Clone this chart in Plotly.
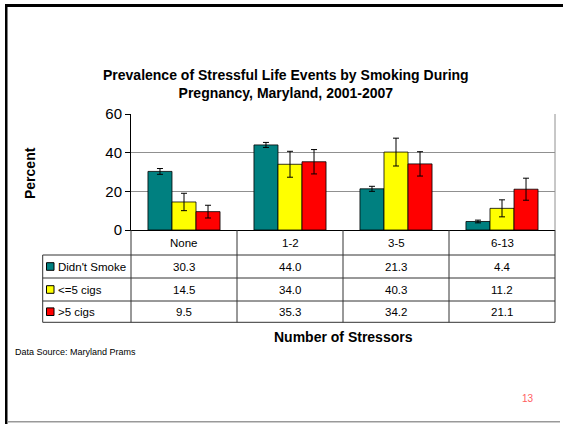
import plotly.graph_objects as go

categories = ["None", "1-2", "3-5", "6-13"]
series_names = ["Didn't Smoke", "<=5 cigs", ">5 cigs"]
didnt_smoke = [30.3, 44.0, 21.3, 4.4]
le5_cigs = [14.5, 34.0, 40.3, 11.2]
gt5_cigs = [9.5, 35.3, 34.2, 21.1]
didnt_smoke_err = [1.5, 1.3, 1.3, 0.7]
le5_cigs_err = [4.5, 6.7, 7.2, 4.4]
gt5_cigs_err = [3.3, 6.3, 6.3, 5.7]
y_ticks = [0, 20, 40, 60]

colors = ["#008080", "#FFFF00", "#FF0000"]
values = [didnt_smoke, le5_cigs, gt5_cigs]
errors = [didnt_smoke_err, le5_cigs_err, gt5_cigs_err]

FONT = "Liberation Sans, Arial, sans-serif"
W, H = 563, 424
ML, MR, MT, MB = 131, 8, 114, 194
PW, PH = W - ML - MR, H - MT - MB


def px(x):
    return (x - ML) / PW


def py(y):
    return (H - MB - y) / PH


fig = go.Figure()
for name, vals, err, col in zip(series_names, values, errors, colors):
    fig.add_trace(go.Bar(
        x=categories, y=vals, name=name,
        marker=dict(color=col, line=dict(color="black", width=0.8)),
        error_y=dict(type="data", array=err, visible=True,
                     color="black", thickness=1, width=3),
        showlegend=False,
    ))

shapes = []
line_col = "#333333"
n = len(categories)
for i in range(n + 1):
    shapes.append(dict(type="line", xref="paper", yref="paper",
                       x0=i / n, x1=i / n, y0=0, y1=py(322.3),
                       line=dict(color=line_col, width=1)))
for yy in [255, 278, 301, 322.3]:
    shapes.append(dict(type="line", xref="paper", yref="paper",
                       x0=px(42.7), x1=1, y0=py(yy), y1=py(yy),
                       line=dict(color=line_col, width=1)))
shapes.append(dict(type="line", xref="paper", yref="paper",
                   x0=px(42.7), x1=px(42.7), y0=py(255), y1=py(322.3),
                   line=dict(color=line_col, width=1)))
shapes.append(dict(type="line", xref="paper", yref="paper",
                   x0=1, x1=1, y0=0, y1=1,
                   line=dict(color="#909090", width=1)))
# slide frame (filled strips)
shapes.append(dict(type="rect", xref="paper", yref="paper",
                   x0=px(5), x1=px(560), y0=py(7), y1=py(4),
                   fillcolor="black", line=dict(width=0)))
shapes.append(dict(type="rect", xref="paper", yref="paper",
                   x0=px(5), x1=px(7.5), y0=py(424), y1=py(4),
                   fillcolor="black", line=dict(width=0)))
shapes.append(dict(type="rect", xref="paper", yref="paper",
                   x0=px(7.5), x1=px(560), y0=py(422.5), y1=py(421),
                   fillcolor="#999999", line=dict(width=0)))

row_centers = [266.5, 289.5, 311.7]
annotations = []
TS = 11.5
for c in categories:
    annotations.append(dict(x=c, xref="x", y=py(242.5), yref="paper",
                            xanchor="center", yanchor="middle",
                            text=c, showarrow=False,
                            font=dict(size=TS, color="black", family=FONT)))
for r, (name, vals, col) in enumerate(zip(series_names, values, colors)):
    yc = py(row_centers[r])
    for c, v in zip(categories, vals):
        annotations.append(dict(x=c, xref="x", y=yc, yref="paper",
                                xanchor="center", yanchor="middle",
                                text=f"{v:.1f}", showarrow=False,
                                font=dict(size=TS, color="black", family=FONT)))
    annotations.append(dict(x=px(55.5), xref="paper", xanchor="left",
                            y=yc, yref="paper", yanchor="middle",
                            text=name, showarrow=False,
                            font=dict(size=TS, color="black", family=FONT)))
    shapes.append(dict(type="rect", xref="paper", yref="paper",
                       x0=px(46.5), x1=px(54), y0=yc - 3.8 / PH, y1=yc + 3.8 / PH,
                       fillcolor=col, line=dict(color="black", width=1)))

annotations += [
    # top border strip of the slide frame
    dict(x=px(5), xref="paper", xanchor="left", y=py(4), yref="paper",
         yanchor="top", text=" ", showarrow=False, width=560, height=3,
         bgcolor="black", borderpad=0, borderwidth=0,
         font=dict(size=1, color="black", family=FONT)),
    dict(x=px(286), xref="paper", xanchor="center", y=py(84), yref="paper",
         yanchor="middle",
         text="<b>Prevalence of Stressful Life Events by Smoking During<br>Pregnancy, Maryland, 2001-2007</b>",
         showarrow=False, align="center",
         font=dict(size=14, color="black", family=FONT)),
    dict(x=px(30), xref="paper", xanchor="center", y=py(173), yref="paper",
         yanchor="middle",
         text="<b>Percent</b>", textangle=-90, showarrow=False,
         font=dict(size=14, color="black", family=FONT)),
    dict(x=0.5, xref="paper", xanchor="center", y=py(337), yref="paper",
         yanchor="middle",
         text="<b>Number of Stressors</b>", showarrow=False,
         font=dict(size=14, color="black", family=FONT)),
    dict(x=px(13), xref="paper", xanchor="left", y=py(352), yref="paper",
         yanchor="middle",
         text="Data Source: Maryland Prams", showarrow=False,
         font=dict(size=9, color="black", family=FONT)),
    dict(x=px(528), xref="paper", xanchor="center", y=py(398), yref="paper",
         yanchor="middle",
         text="13", showarrow=False,
         font=dict(size=10, color="#FF6060", family=FONT)),
]

fig.update_layout(
    width=W, height=H,
    margin=dict(l=ML, r=MR, t=MT, b=MB, pad=0),
    paper_bgcolor="white", plot_bgcolor="white",
    barmode="group", bargap=0.32, bargroupgap=0,
    font=dict(family=FONT, color="black"),
    hovermode=False,
    xaxis=dict(showticklabels=False, ticks="", showline=True,
               linecolor="black", linewidth=1, showgrid=False,
               range=[-0.5, 3.5], fixedrange=True),
    yaxis=dict(range=[0, 60], tickvals=y_ticks, ticks="outside", ticklen=5,
               tickcolor="black", showline=True, linecolor="black",
               linewidth=1, showgrid=True, gridcolor="#909090",
               gridwidth=1, zeroline=False, fixedrange=True,
               tickfont=dict(size=15, color="black", family=FONT)),
    shapes=shapes, annotations=annotations,
)

fig.write_html("out.html", config={"displayModeBar": False},
               post_script="document.body.style.margin='0';document.body.style.padding='0';")
